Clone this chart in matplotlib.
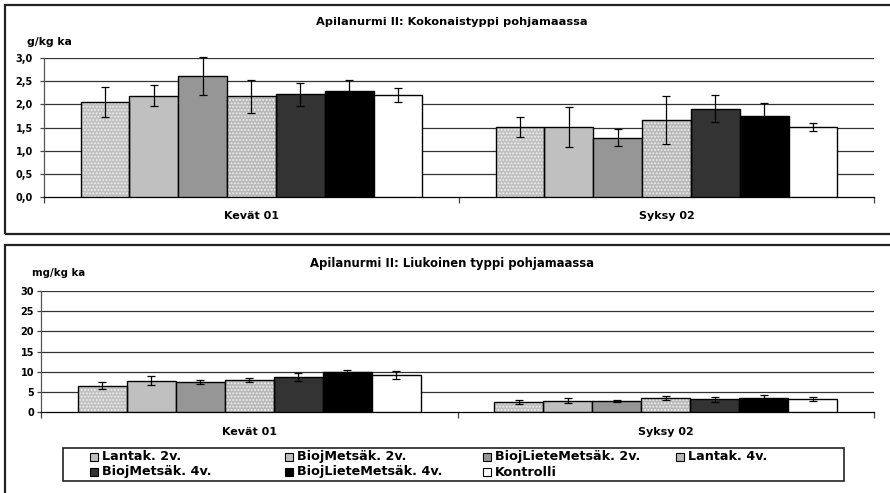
import matplotlib
matplotlib.use("Agg")
import matplotlib.pyplot as plt
from matplotlib.patches import Rectangle
import numpy as np

plt.rcParams['font.family'] = ['DejaVu Sans']
plt.rcParams['font.weight'] = 'bold'
plt.rcParams['hatch.linewidth'] = 0.9

categories = ["Kevät 01", "Syksy 02"]
series = ["Lantak. 2v.", "BiojMetsäk. 2v.", "BiojLieteMetsäk. 2v.", "Lantak. 4v.",
          "BiojMetsäk. 4v.", "BiojLieteMetsäk. 4v.", "Kontrolli"]

# Top chart: Kokonaistyppi g/kg ka
tot_kevat = [2.05, 2.19, 2.62, 2.17, 2.22, 2.28, 2.20]
tot_kevat_err = [0.32, 0.22, 0.41, 0.35, 0.25, 0.24, 0.15]
tot_syksy = [1.51, 1.51, 1.28, 1.66, 1.91, 1.74, 1.51]
tot_syksy_err = [0.21, 0.43, 0.18, 0.51, 0.30, 0.29, 0.08]

# Bottom chart: Liukoinen typpi mg/kg ka
liu_kevat = [6.5, 7.7, 7.5, 7.9, 8.6, 9.8, 9.2]
liu_kevat_err = [0.8, 1.1, 0.5, 0.6, 1.0, 0.6, 1.0]
liu_syksy = [2.5, 2.7, 2.7, 3.3, 3.1, 3.4, 3.1]
liu_syksy_err = [0.5, 0.6, 0.3, 0.5, 0.6, 0.8, 0.5]

colors = ['#c0c0c0', '#c0c0c0', '#969696', '#b8b8b8', '#333333', '#000000', '#ffffff']
hatches = ['.....', None, None, '.....', None, None, None]

W, H = 890, 493
fig = plt.figure(figsize=(W / 100, H / 100), dpi=100)

def frac_axes(left, right, top, bottom):
    return fig.add_axes([left / W, 1 - bottom / H, (right - left) / W, (bottom - top) / H])

# frames
fig.patches.append(Rectangle((5 / W, 1 - 234 / H), 900 / W, 229 / H, transform=fig.transFigure,
                             fill=False, edgecolor='#222222', linewidth=1.6))
fig.patches.append(Rectangle((5 / W, 1 - 500 / H), 900 / W, 255 / H, transform=fig.transFigure,
                             fill=False, edgecolor='#222222', linewidth=1.6))

bw = 1 / 8.5

def draw(ax, vals_k, err_k, vals_s, err_s, ymax, ystep, fmt, fs, pad):
    data = [vals_k, vals_s]
    errs = [err_k, err_s]
    for gi in range(2):
        center = gi + 0.5
        for si in range(len(series)):
            x = center + (si - 3) * bw
            v = data[gi][si]
            if hatches[si]:
                ax.bar(x, v, bw, color=colors[si], edgecolor='#f0f0f0', hatch=hatches[si],
                       linewidth=0, zorder=3)
                ax.bar(x, v, bw, fill=False, edgecolor='black', linewidth=1.0, zorder=4)
            else:
                ax.bar(x, v, bw, color=colors[si], edgecolor='black', linewidth=1.0, zorder=3)
            eb = ax.errorbar(x, v, yerr=errs[gi][si], fmt='none', ecolor='black', elinewidth=0.9,
                             capsize=2.6, capthick=0.9, zorder=5)
            for art in eb.lines[1] + eb.lines[2]:
                art.set_clip_on(False)
    ax.set_xlim(0, 2)
    ax.set_ylim(0, ymax)
    ticks = np.arange(0, ymax + ystep / 2, ystep)
    ax.set_yticks(ticks)
    ax.set_yticklabels([fmt(t) for t in ticks], fontsize=fs, fontweight='bold')
    ax.set_xticks([0, 1, 2])
    ax.set_xticklabels([])
    ax.tick_params(axis='x', direction='out', length=4, width=0.9, color='#444444')
    ax.tick_params(axis='y', direction='out', length=3, width=0.9, color='#444444', pad=pad)
    for t in ticks[1:]:
        ax.axhline(t, color='#333333', linewidth=0.9, zorder=1)
    for s in ['top', 'right']:
        ax.spines[s].set_visible(False)
    ax.spines['left'].set_color('#555555')
    ax.spines['bottom'].set_color('black')
    ax.spines['left'].set_linewidth(0.9)
    ax.spines['bottom'].set_linewidth(0.9)
    ax.set_zorder(2)

ax1 = frac_axes(44, 874, 58, 197)
draw(ax1, tot_kevat, tot_kevat_err, tot_syksy, tot_syksy_err, 3.0, 0.5,
     lambda t: f"{t:.1f}".replace('.', ','), 7, 5)
for i, c in enumerate(categories):
    fig.text((44 + 830 * (i + 0.5) / 2) / W, 1 - 216 / H, c, ha='center', va='center',
             fontsize=8, fontweight='bold')
fig.text(452 / W, 1 - 22 / H, "Apilanurmi II: Kokonaistyppi pohjamaassa", ha='center', va='center',
         fontsize=8.2, fontweight='bold')
fig.text(27 / W, 1 - 42 / H, "g/kg ka", ha='left', va='center', fontsize=7.8, fontweight='bold')

ax2 = frac_axes(41, 874, 291.3, 411.7)
draw(ax2, liu_kevat, liu_kevat_err, liu_syksy, liu_syksy_err, 30, 5,
     lambda t: f"{int(t)}", 7, 2)
for i, c in enumerate(categories):
    fig.text((41 + 833 * (i + 0.5) / 2) / W, 1 - 432 / H, c, ha='center', va='center',
             fontsize=8, fontweight='bold')
fig.text(452 / W, 1 - 263 / H, "Apilanurmi II: Liukoinen typpi pohjamaassa", ha='center', va='center',
         fontsize=8.4, fontweight='bold')
fig.text(32 / W, 1 - 273 / H, "mg/kg ka", ha='left', va='center', fontsize=7.3, fontweight='bold')

# legend (manual, Excel-like equal column pitch)
fig.patches.append(Rectangle((63 / W, 1 - 481 / H), (844 - 63) / W, (481 - 448) / H,
                             transform=fig.transFigure, fill=True, facecolor='white',
                             edgecolor='#222222', linewidth=1.2))
col_x = [90, 285, 483, 676]
row_y = [456.5, 472]
for si, name in enumerate(series):
    r, c = divmod(si, 4)
    x0, yc = col_x[c], row_y[r]
    fig.patches.append(Rectangle((x0 / W, 1 - (yc + 4) / H), 8 / W, 8 / H, transform=fig.transFigure,
                                 facecolor=colors[si], edgecolor='black', linewidth=0.8))
    fig.text((x0 + 12) / W, 1 - yc / H, name, ha='left', va='center', fontsize=9.2,
             fontweight='bold')

fig.savefig("out.png", dpi=100)
